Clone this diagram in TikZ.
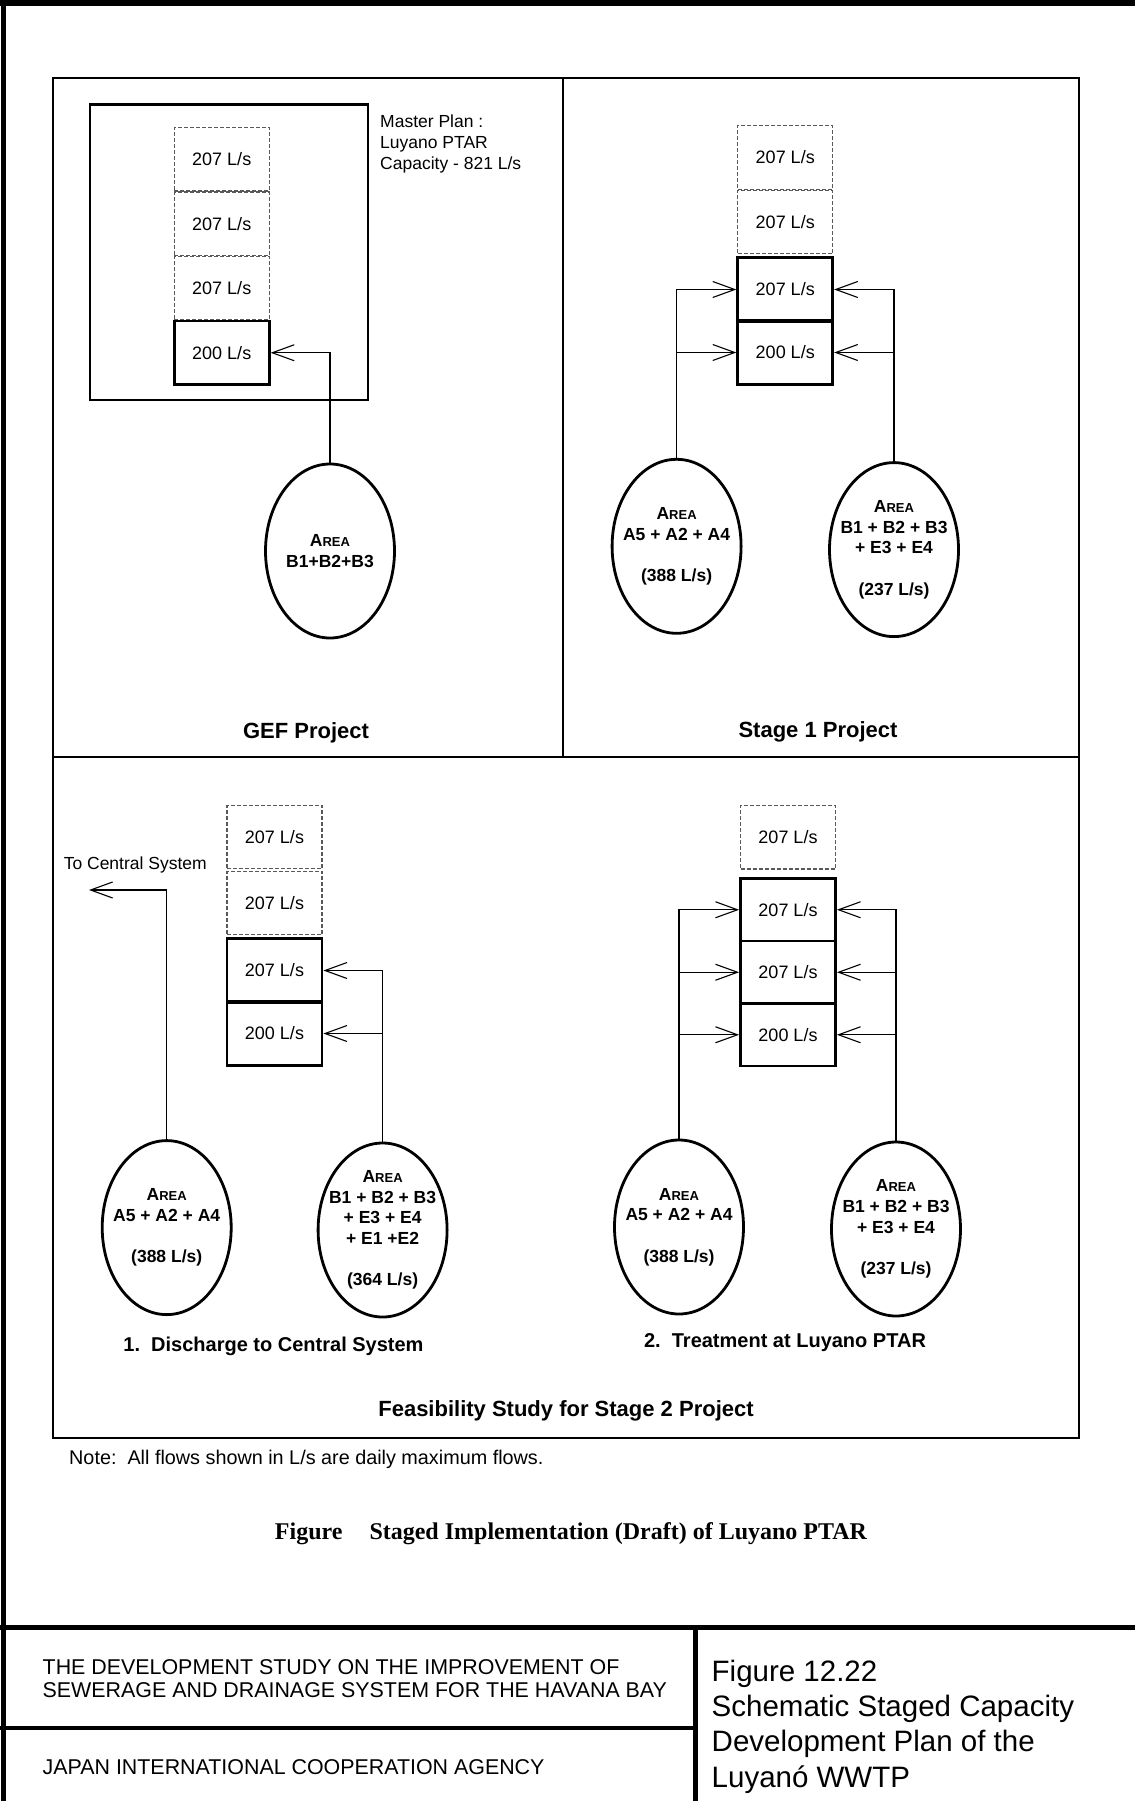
\documentclass[tikz,border=0pt]{standalone}
\usepackage{fontspec}
\setmainfont{Liberation Sans}
\newfontfamily\titleserif{Liberation Serif}
\usetikzlibrary{arrows.meta,shapes.geometric}
\newcommand\areaword{A{\fontsize{13}{20.7}\selectfont REA}}
\begin{document}
\begin{tikzpicture}[x=1pt,y=-1pt,
  frameline/.style={line width=2pt},
  cellbase/.style={minimum width=95pt, minimum height=63.5pt, inner sep=0pt, font=\fontsize{18}{21}\selectfont},
  cell/.style={cellbase, draw, line width=2.8pt},
  futurecell/.style={cellbase, draw=black!65, dash pattern=on 4pt off 2pt, line width=1.3pt},
  area/.style={ellipse, draw, line width=2.8pt, minimum width=129pt, minimum height=174pt, inner sep=0pt},
  areatext/.style={align=center, inner sep=0pt, font=\bfseries\fontsize{17.5}{20.7}\selectfont},
  flow/.style={line width=1.1pt, -{Straight Barb[length=22pt,width=16pt,line width=1.1pt]}},
  plain/.style={inner sep=0pt, font=\fontsize{17.5}{21}\selectfont},
  paneltitle/.style={inner sep=0pt, font=\bfseries\fontsize{22}{26}\selectfont},
  subtitle/.style={inner sep=0pt, font=\bfseries\fontsize{20}{24}\selectfont}
]
\useasboundingbox (0,0) rectangle (1135,1801);
\fill[white] (0,0) rectangle (1135,1801);

% outer sheet frame
\draw[line width=6pt] (0,3) -- (1135,3);
\draw[line width=5pt] (3.5,0) -- (3.5,1801);

% panel frame
\draw[frameline] (53,78) rectangle (1079,1438);
\draw[frameline] (563,78) -- (563,757);
\draw[frameline] (53,757) -- (1079,757);

% ---------------- GEF Project ----------------
\draw[line width=2.2pt] (90,104.5) rectangle (368,400);
\node[futurecell] (g1) at (221.75,159.25) {207 L/s};
\node[futurecell] (g2) at (221.75,223.75) {207 L/s};
\node[futurecell] (g3) at (221.75,288.25) {207 L/s};
\node[cell] (g4) at (221.75,352.75) {200 L/s};
\node[plain, anchor=west, align=left] (mp) at (380,143.5) {Master Plan :\\Luyano PTAR\\Capacity - 821 L/s};
\node[area] (gA) at (330,551) {};
\node[areatext] (gAt) at (gA.center) {\areaword\\B1+B2+B3};
\draw[flow] (gA.north) |- (g4.east);
\node[paneltitle, anchor=base] (gT) at (306,738) {GEF Project};

% ---------------- Stage 1 ----------------
\node[futurecell] (s1) at (785.25,157.5) {207 L/s};
\node[futurecell] (s2) at (785.25,222) {207 L/s};
\node[cell] (s3) at (785.25,289.5) {207 L/s};
\node[cell] (s4) at (785.25,352.5) {200 L/s};
\node[area] (sL) at (676.6,546.3) {};
\node[areatext] (sLt) at (sL.center) {\areaword\\A5 + A2 + A4\\[20.7pt](388 L/s)};
\node[area] (sR) at (894,549.6) {};
\node[areatext] (sRt) at (sR.center) {\areaword\\B1 + B2 + B3\\+ E3 + E4\\[20.7pt](237 L/s)};
\draw[flow] (sL.north) |- (s3.west);
\draw[flow] (sL.north |- s4.west) -- (s4.west);
\draw[flow] (sR.north) |- (s3.east);
\draw[flow] (sR.north |- s4.east) -- (s4.east);
\node[paneltitle, anchor=base] (sT) at (818,737) {Stage 1 Project};

% ---------------- Stage 2, option 1 ----------------
\node[futurecell] (f1) at (274.5,837) {207 L/s};
\node[futurecell] (f2) at (274.5,903) {207 L/s};
\node[cell] (f3) at (274.5,970.5) {207 L/s};
\node[cell] (f4) at (274.5,1033.5) {200 L/s};
\node[area] (fL) at (166.7,1227.6) {};
\node[areatext] (fLt) at (fL.center) {\areaword\\A5 + A2 + A4\\[20.7pt](388 L/s)};
\node[area] (fR) at (382.6,1230) {};
\node[areatext] (fRt) at (fR.center) {\areaword\\B1 + B2 + B3\\+ E3 + E4\\+ E1 +E2\\[20.7pt](364 L/s)};
\coordinate (tocs) at (89,890);
\node[plain, anchor=base west] (tocsT) at (63.6,869) {To Central System};
\draw[flow] (fL.north) |- (tocs);
\draw[flow] (fR.north) |- (f3.east);
\draw[flow] (fR.north |- f4.east) -- (f4.east);
\node[subtitle, anchor=base] (fT) at (273.5,1351) {1.\ \ Discharge to Central System};

% ---------------- Stage 2, option 2 ----------------
\node[futurecell] (t1) at (788,837.25) {207 L/s};
\node[cell, minimum height=62.5pt] (t2) at (788,909.75) {207 L/s};
\node[cell, minimum height=62.5pt] (t3) at (788,972.25) {207 L/s};
\node[cell, minimum height=62.5pt] (t4) at (788,1034.75) {200 L/s};
\node[area] (tL) at (679,1227) {};
\node[areatext] (tLt) at (tL.center) {\areaword\\A5 + A2 + A4\\[20.7pt](388 L/s)};
\node[area] (tR) at (896,1229) {};
\node[areatext] (tRt) at (tR.center) {\areaword\\B1 + B2 + B3\\+ E3 + E4\\[20.7pt](237 L/s)};
\draw[flow] (tL.north) |- (t2.west);
\draw[flow] (tL.north |- t3.west) -- (t3.west);
\draw[flow] (tL.north |- t4.west) -- (t4.west);
\draw[flow] (tR.north) |- (t2.east);
\draw[flow] (tR.north |- t3.east) -- (t3.east);
\draw[flow] (tR.north |- t4.east) -- (t4.east);
\node[subtitle, anchor=base] (tT) at (785,1347) {2.\ \ Treatment at Luyano PTAR};

\node[paneltitle, anchor=base] (fsT) at (566,1416) {Feasibility Study for Stage 2 Project};

% notes and caption
\node[inner sep=0pt, anchor=base west, font=\fontsize{19.8}{23}\selectfont] (note) at (69,1464) {Note:\ \ All flows shown in L/s are daily maximum flows.};
\node[inner sep=0pt, anchor=base, font=\titleserif\bfseries\fontsize{24}{28}\selectfont] (cap) at (571,1539) {Figure\hspace{27pt}Staged Implementation (Draft) of Luyano PTAR};

% ---------------- title block ----------------
\draw[line width=5pt] (0,1627.5) -- (1135,1627.5);
\draw[line width=4.5pt] (695.5,1627.5) -- (695.5,1801);
\draw[line width=3.5pt] (0,1728) -- (695.5,1728);
\node[inner sep=0pt, anchor=west, align=left, font=\fontsize{21.4}{23.2}\selectfont] (tb1) at (42.5,1678.5) {THE DEVELOPMENT STUDY ON THE IMPROVEMENT OF\\SEWERAGE AND DRAINAGE SYSTEM FOR THE HAVANA BAY};
\node[inner sep=0pt, anchor=base west, font=\fontsize{21.4}{23.2}\selectfont] (tb2) at (42.5,1774) {JAPAN INTERNATIONAL COOPERATION AGENCY};
\node[inner sep=0pt, anchor=west, align=left, font=\fontsize{29.5}{35.3}\selectfont] (tb3) at (711.5,1726.5) {Figure 12.22\\Schematic Staged Capacity\\Development Plan of the\\Luyanó WWTP};
\end{tikzpicture}
\end{document}
